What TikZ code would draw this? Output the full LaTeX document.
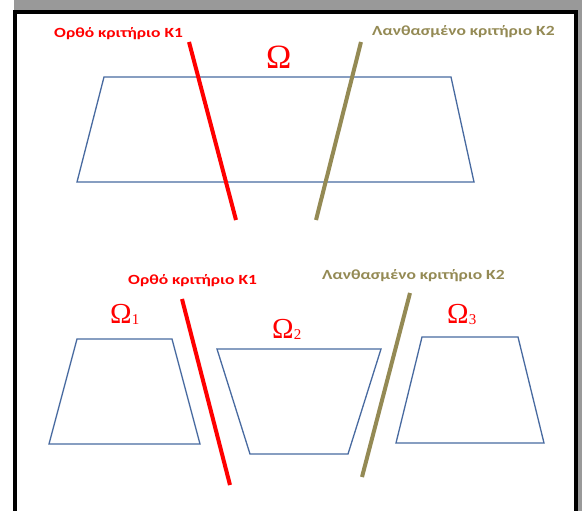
\documentclass[tikz,border=0pt]{standalone}
\usepackage{fontspec}
\setmainfont{Liberation Serif}
\newfontfamily\labfont{Carlito}
\definecolor{frameg}{RGB}{153,153,153}
\definecolor{trapblue}{RGB}{72,106,160}
\definecolor{olivek}{RGB}{148,138,84}
\definecolor{redk}{RGB}{255,0,0}
\newcommand{\lbltext}[1]{\scalebox{1.25}[1]{#1}}
\newcommand{\omsub}[1]{\raisebox{-1pt}{\fontsize{15}{16}\selectfont #1}}
\begin{document}
\begin{tikzpicture}[x=1pt,y=-1pt,
  trap/.style={draw=trapblue, line width=1.3pt, line join=miter},
  crit/.style={line width=4pt},
  lbl/.style={font=\labfont\bfseries\fontsize{14}{15}\selectfont, inner sep=0pt, anchor=west},
  omega/.style={text=redk, inner sep=0pt, anchor=base west}]
\useasboundingbox (0,0) rectangle (582,511);
\fill[white] (0,0) rectangle (582,511);
\fill[frameg] (14,0) rectangle (582,12);
\fill[frameg] (577,0) rectangle (582,511);
\draw[line width=4pt] (15,530) -- (15,12.5) -- (576,12.5) -- (576,530);

% top part
\draw[trap] (104,77) -- (451,77) -- (474,182) -- (77,182) -- cycle;
\coordinate (r1a) at (189,42);
\coordinate (r1b) at (236,220);
\coordinate (o1a) at (361,42);
\coordinate (o1b) at (316,220);
\draw[crit, redk] (r1a) -- (r1b);
\draw[crit, olivek] (o1a) -- (o1b);
\node[lbl, text=redk] (lr1) at (54,34) {\lbltext{Ορθό κριτήριο Κ1}};
\node[lbl, text=olivek] (lo1) at (372,32) {\lbltext{Λανθασμένο κριτήριο Κ2}};
\node[omega, font=\fontsize{34}{36}\selectfont] (om) at (266,69) {Ω};

% bottom part
\draw[trap] (77,339) -- (172,339) -- (200,444) -- (49,444) -- cycle;
\draw[trap] (217,349) -- (381,349) -- (348,454) -- (250,454) -- cycle;
\draw[trap] (422,337) -- (518,337) -- (544,443) -- (396,443) -- cycle;
\coordinate (r2a) at (182,299);
\coordinate (r2b) at (230,485);
\coordinate (o2a) at (410,293);
\coordinate (o2b) at (362,477);
\draw[crit, redk] (r2a) -- (r2b);
\draw[crit, olivek] (o2a) -- (o2b);
\node[lbl, text=redk] (lr2) at (128,281) {\lbltext{Ορθό κριτήριο Κ1}};
\node[lbl, text=olivek] (lo2) at (322,276) {\lbltext{Λανθασμένο κριτήριο Κ2}};
\node[omega, font=\fontsize{29}{30}\selectfont] (om1) at (110,323) {Ω\omsub{1}};
\node[omega, font=\fontsize{29}{30}\selectfont] (om2) at (272,338) {Ω\omsub{2}};
\node[omega, font=\fontsize{29}{30}\selectfont] (om3) at (447,323) {Ω\omsub{3}};
\end{tikzpicture}
\end{document}
